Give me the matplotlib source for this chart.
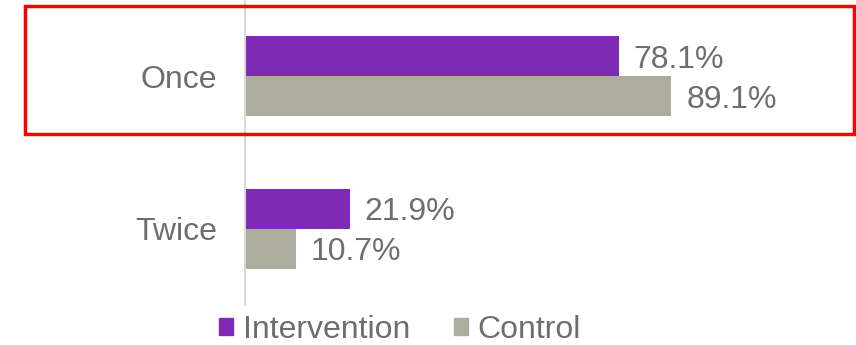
import matplotlib.pyplot as plt
from matplotlib.patches import Patch, Rectangle

plt.rcParams['font.family'] = ['Liberation Sans', 'DejaVu Sans']

# survey results, share of respondents (%)
categories = ["Twice", "Once"]
intervention = [21.9, 78.1]
control = [10.7, 89.1]
series_names = ["Intervention", "Control"]

purple = "#7F2AB5"
grey = "#ADAD9E"
text_col = "#6E6E6E"
fs = 23

W, H = 856, 345
fig = plt.figure(figsize=(W / 100, H / 100), dpi=100)
ax = fig.add_axes([245 / W, 1 - 305 / H, 478.5 / W, 305 / H])

bar_h = 0.262
ypos = range(len(categories))
ax.barh([y + bar_h / 2 for y in ypos], intervention, height=bar_h, color=purple)
ax.barh([y - bar_h / 2 for y in ypos], control, height=bar_h, color=grey)

for y, v in zip(ypos, intervention):
    ax.text(v + 3.1, y + bar_h / 2, f"{v:.1f}%", va="center_baseline", ha="left",
            fontsize=fs, color=text_col, clip_on=False)
for y, v in zip(ypos, control):
    ax.text(v + 3.1, y - bar_h / 2, f"{v:.1f}%", va="center_baseline", ha="left",
            fontsize=fs, color=text_col, clip_on=False)

ax.set_xlim(0, 100)
ax.set_ylim(-0.5, 1.5)
ax.set_yticks(list(ypos))
ax.set_yticklabels(categories, fontsize=fs, color=text_col)
ax.tick_params(axis="y", length=0, pad=20)
ax.set_xticks([])
for side in ["top", "right", "bottom"]:
    ax.spines[side].set_visible(False)
ax.spines["left"].set_color("#D9D9D9")
ax.spines["left"].set_linewidth(1.5)

handles = [Patch(color=purple), Patch(color=grey)]
fig.legend(handles, series_names, loc="center", bbox_to_anchor=(400 / W, 1 - 330 / H),
           ncol=2, frameon=False, fontsize=fs, labelcolor=text_col,
           handlelength=0.46, handleheight=0.46, handletextpad=0.3,
           columnspacing=1.35, borderpad=0, borderaxespad=0)

# highlight box around the first category
fig.patches.append(Rectangle((24.5 / W, 1 - 134 / H), (853.5 - 24.5) / W, 128 / H,
                             transform=fig.transFigure, fill=False,
                             edgecolor="#FF0000", linewidth=2.5))

fig.savefig("out.png", dpi=100)
